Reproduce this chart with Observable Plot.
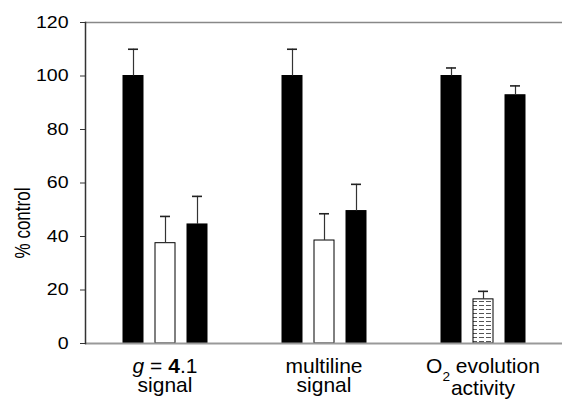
<!DOCTYPE html>
<html><head><meta charset="utf-8">
<script src="https://cdn.jsdelivr.net/npm/d3@7"></script>
<script src="https://cdn.jsdelivr.net/npm/@observablehq/plot@0.6"></script>
<style>body{margin:0;background:#fff}</style>
</head><body><div id="chart"></div>
<script>
// Data
const groups = ["g41", "multiline", "o2"];
const groupLabels = [["g = 4.1", "signal"], ["multiline", "signal"], ["O2 evolution", "activity"]];
const series = ["s1", "s2", "s3"];
const values = [[100, 37.5, 44.5], [100, 38.5, 49.5], [100, 16.5, 92.8]];
const errors = [[10, 10, 10.5], [10, 10, 10], [3, 3, 3.5]];
const kinds = [["solid", "open", "solid"], ["solid", "open", "solid"], ["solid", "hatched", "solid"]];
const yTicks = [0, 20, 40, 60, 80, 100, 120];
const yLabel = "% control";

const data = [];
groups.forEach((g, i) => series.forEach((s, j) => data.push({
  group: g, series: s, value: values[i][j], top: values[i][j] + errors[i][j], kind: kinds[i][j]
})));
const labelOf = Object.fromEntries(groups.map((g, i) => [g, groupLabels[i].join("\n")]));

const W = 562, H = 405, ML = 85, MT = 22, MB = 62;
const chart = Plot.plot({
  width: W, height: H,
  marginLeft: ML, marginRight: 0, marginTop: MT, marginBottom: MB,
  style: {fontFamily: "Liberation Sans, Arial, sans-serif", fontSize: "17px", color: "#000", background: "#fff"},
  fx: {domain: groups, padding: 0, axis: null},
  x: {domain: series, paddingInner: 0.375, paddingOuter: 1.17, axis: null},
  y: {domain: [0, 120], axis: null},
  color: {domain: ["solid", "open", "hatched"], range: ["#000", "#fff", "url(#hatch)"]},
  marks: [
    Plot.axisY({ticks: yTicks, tickSize: 5, tickPadding: 12, fontSize: 17, label: null, stroke: "#333"}),
    Plot.axisFx({anchor: "bottom", tickSize: 0, tickPadding: 15.8, fontSize: 20, lineHeight: 0.95,
      tickFormat: g => labelOf[g], label: null}),
    Plot.barY(data, {fx: "group", x: "series", y: "value", fill: "kind", stroke: "#000", strokeWidth: 1}),
    Plot.ruleX(data, {fx: "group", x: "series", y1: "value", y2: "top", stroke: "#333", strokeWidth: 1.2}),
    Plot.tickY(data, {fx: "group", x: "series", y: "top", insetLeft: 5, insetRight: 5, stroke: "#222", strokeWidth: 1.6}),
    Plot.ruleY([0], {stroke: "#999", strokeWidth: 2}),
    Plot.ruleY([120], {stroke: "#888", strokeWidth: 1.5}),
    Plot.frame({anchor: "left", facet: "super", stroke: "#333", strokeWidth: 1.5}),
    Plot.text([yLabel], {facet: "super", text: d => d, frameAnchor: "left", rotate: -90,
      fontSize: 17, fill: "#000"})
  ]
});

// pattern for the hatched bar
const ns = "http://www.w3.org/2000/svg";
const defs = document.createElementNS(ns, "defs");
defs.innerHTML = `<pattern id="hatch" width="7" height="4" patternUnits="userSpaceOnUse">
  <rect width="7" height="4" fill="#fff"/>
  <line x1="0" y1="1.5" x2="5" y2="1.5" stroke="#555" stroke-width="1"/></pattern>`;
chart.insertBefore(defs, chart.firstChild);

// rich text for category labels
chart.querySelectorAll('[aria-label="fx-axis tick label"] tspan, [aria-label="fx-axis tick label"] text').forEach(el => {
  if (el.children.length) return;
  const t = el.textContent;
  if (t === "g = 4.1") {
    el.innerHTML = `<tspan font-style="italic">g</tspan> = <tspan font-weight="bold">4</tspan>.1`;
  } else if (t === "O2 evolution") {
    el.innerHTML = `O<tspan baseline-shift="sub" font-size="13">2</tspan> evolution`;
  } else if (t === "activity") {
    el.setAttribute("dy", "1.12em");
  }
});
// the original typeface is drawn slightly wide
chart.querySelectorAll('[aria-label="fx-axis tick label"] text').forEach(el => {
  el.setAttribute("transform", (el.getAttribute("transform") || "") + " scale(1.05,1)");
});
chart.querySelectorAll('[aria-label="y-axis tick label"] text').forEach(el => {
  el.setAttribute("transform", (el.getAttribute("transform") || "") + " scale(1.15,1)");
});
// y-axis title placement (rotated, sits a little below the frame's middle)
chart.querySelectorAll('text').forEach(el => {
  if (el.textContent !== yLabel) return;
  ["x", "y", "dx", "dy"].forEach(a => el.removeAttribute(a));
  el.setAttribute("dy", "0.32em");
  el.setAttribute("text-anchor", "middle");
  el.setAttribute("transform", `translate(${ML - 62},${(MT + H - MB) / 2 + 40}) rotate(-90) scale(1,1.25)`);
});

document.getElementById("chart").appendChild(chart);
</script>
</body></html>
